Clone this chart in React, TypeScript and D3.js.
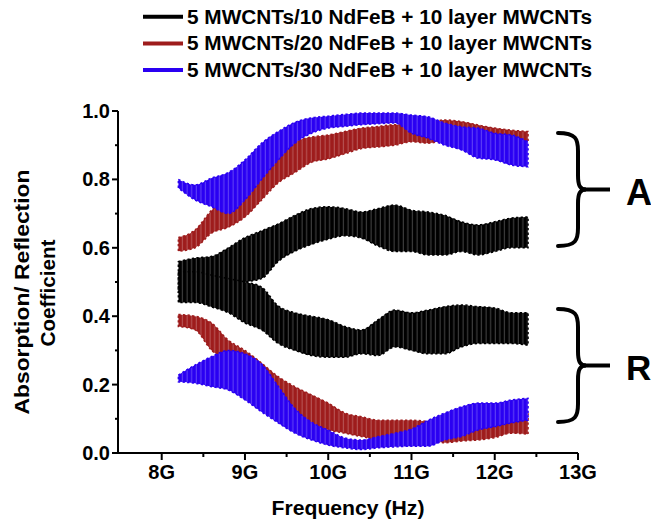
import React from "react";
import * as d3 from "d3";

// Frequency samples (GHz)
const FREQ = [8.2, 8.4, 8.6, 8.8, 9.0, 9.2, 9.4, 9.6, 9.8, 10.0, 10.2, 10.4, 10.6, 10.8, 11.0, 11.2, 11.4, 11.6, 11.8, 12.0, 12.2, 12.4];

// 5 MWCNTs/10 NdFeB — absorption (A) and reflection (R) envelopes
const BLACK_A_HI = [0.56, 0.57, 0.575, 0.6, 0.63, 0.65, 0.67, 0.695, 0.715, 0.72, 0.715, 0.705, 0.715, 0.725, 0.71, 0.705, 0.695, 0.676, 0.667, 0.676, 0.687, 0.69];
const BLACK_A_LO = [0.47, 0.47, 0.48, 0.49, 0.5, 0.51, 0.56, 0.59, 0.61, 0.625, 0.635, 0.628, 0.605, 0.589, 0.589, 0.579, 0.579, 0.589, 0.579, 0.589, 0.6, 0.6];
const BLACK_R_HI = [0.53, 0.53, 0.52, 0.51, 0.5, 0.485, 0.43, 0.41, 0.4, 0.39, 0.37, 0.36, 0.39, 0.418, 0.41, 0.418, 0.428, 0.433, 0.428, 0.424, 0.41, 0.41];
const BLACK_R_LO = [0.44, 0.44, 0.427, 0.41, 0.38, 0.36, 0.32, 0.3, 0.285, 0.28, 0.28, 0.29, 0.285, 0.31, 0.3, 0.29, 0.29, 0.31, 0.32, 0.32, 0.32, 0.315];

// 5 MWCNTs/20 NdFeB
const RED_A_HI = [0.63, 0.652, 0.71, 0.75, 0.79, 0.836, 0.877, 0.91, 0.924, 0.93, 0.94, 0.95, 0.955, 0.96, 0.96, 0.965, 0.974, 0.969, 0.959, 0.95, 0.944, 0.94];
const RED_A_LO = [0.59, 0.6, 0.643, 0.66, 0.69, 0.74, 0.79, 0.82, 0.85, 0.86, 0.875, 0.89, 0.895, 0.9, 0.91, 0.906, 0.915, 0.92, 0.915, 0.91, 0.91, 0.91];
const RED_R_HI = [0.405, 0.4, 0.38, 0.33, 0.3, 0.263, 0.223, 0.194, 0.17, 0.146, 0.117, 0.106, 0.096, 0.096, 0.096, 0.092, 0.088, 0.092, 0.096, 0.1, 0.106, 0.117];
const RED_R_LO = [0.37, 0.36, 0.3, 0.27, 0.223, 0.184, 0.146, 0.106, 0.085, 0.067, 0.058, 0.048, 0.04, 0.04, 0.05, 0.04, 0.03, 0.035, 0.038, 0.045, 0.058, 0.055];

// 5 MWCNTs/30 NdFeB
const BLUE_A_HI = [0.8, 0.784, 0.804, 0.82, 0.857, 0.906, 0.94, 0.967, 0.98, 0.985, 0.99, 0.994, 0.994, 0.994, 0.988, 0.983, 0.965, 0.954, 0.95, 0.935, 0.93, 0.91];
const BLUE_A_LO = [0.775, 0.74, 0.72, 0.7, 0.74, 0.8, 0.857, 0.906, 0.935, 0.95, 0.955, 0.96, 0.963, 0.965, 0.935, 0.92, 0.9, 0.886, 0.862, 0.857, 0.842, 0.837];
const BLUE_R_HI = [0.228, 0.257, 0.282, 0.3, 0.29, 0.26, 0.195, 0.13, 0.09, 0.067, 0.044, 0.038, 0.048, 0.058, 0.07, 0.096, 0.117, 0.135, 0.146, 0.146, 0.155, 0.16];
const BLUE_R_LO = [0.208, 0.204, 0.194, 0.184, 0.155, 0.12, 0.088, 0.058, 0.038, 0.023, 0.015, 0.01, 0.015, 0.018, 0.02, 0.02, 0.038, 0.048, 0.067, 0.077, 0.088, 0.096];

const LEGEND_LABELS = [
  "5 MWCNTs/10 NdFeB + 10 layer MWCNTs",
  "5 MWCNTs/20 NdFeB + 10 layer MWCNTs",
  "5 MWCNTs/30 NdFeB + 10 layer MWCNTs",
];
const COLORS = ["#000000", "#9e1c1c", "#2a00f2"];

const X_TICKS = [8, 9, 10, 11, 12, 13];
const X_MINOR = [8.5, 9.5, 10.5, 11.5, 12.5];
const X_TICK_LABELS = ["8G", "9G", "10G", "11G", "12G", "13G"];
const Y_TICKS = [0, 0.2, 0.4, 0.6, 0.8, 1.0];
const Y_MINOR = [0.1, 0.3, 0.5, 0.7, 0.9];

const BANDS = [
  { s: 0, lo: BLACK_A_LO, hi: BLACK_A_HI },
  { s: 0, lo: BLACK_R_LO, hi: BLACK_R_HI },
  { s: 1, lo: RED_A_LO, hi: RED_A_HI },
  { s: 1, lo: RED_R_LO, hi: RED_R_HI },
  { s: 2, lo: BLUE_A_LO, hi: BLUE_A_HI },
  { s: 2, lo: BLUE_R_LO, hi: BLUE_R_HI },
];

const FONT = "'Liberation Sans', Arial, sans-serif";

export default function App() {
  const x = d3.scaleLinear().domain([7.475, 13]).range([118, 578]);
  const y = d3.scaleLinear().domain([0, 1]).range([453, 111]);

  const area = (lo: number[], hi: number[]) =>
    d3
      .area<number>()
      .x((f) => x(f))
      .y0((_, i) => y(lo[i]))
      .y1((_, i) => y(hi[i]))
      .curve(d3.curveMonotoneX)(FREQ) as string;

  const brace = (top: number, bottom: number) => {
    const mid = (top + bottom) / 2;
    const x0 = 558;
    const x1 = 578;
    const xm = 586;
    return `M${x0},${top} C${x1 - 2},${top} ${x1},${top + 6} ${x1},${top + 18}
      L${x1},${mid - 14} C${x1},${mid - 4} ${x1 + 2},${mid} ${xm},${mid}
      C${x1 + 2},${mid} ${x1},${mid + 4} ${x1},${mid + 14}
      L${x1},${bottom - 18} C${x1},${bottom - 6} ${x1 - 2},${bottom} ${x0},${bottom}`;
  };

  return (
    <svg
      width={651}
      height={523}
      style={{ position: "absolute", left: 0, top: 0, background: "#fff" }}
      fontFamily={FONT}
      fontWeight="bold"
    >
      <defs>
        {COLORS.map((c, i) => (
          <pattern key={c} id={`stripe${i}`} patternUnits="userSpaceOnUse" width={4.6} height={20}>
            <rect width={4.6} height={20} fill={c} />
            <rect x={2.6} width={0.8} height={20} fill="#ffffff" opacity={0.35} />
          </pattern>
        ))}
      </defs>

      {/* Legend */}
      {LEGEND_LABELS.map((lab, i) => (
        <g key={lab}>
          <line x1={143} x2={183} y1={16.7 + i * 26.7} y2={16.7 + i * 26.7} stroke={COLORS[i]} strokeWidth={4} />
          <text x={187} y={23.5 + i * 26.8} fontSize={20} textLength={405} lengthAdjust="spacingAndGlyphs" fill="#000">
            {lab}
          </text>
        </g>
      ))}

      {/* Data bands */}
      {BANDS.map((b, i) => (
        <path
          key={i}
          d={area(b.lo, b.hi)}
          fill={`url(#stripe${b.s})`}
          stroke={COLORS[b.s]}
          strokeWidth={1.5}
          strokeDasharray="2.3 2.3"
        />
      ))}

      {/* Axes */}
      <line x1={118} x2={578} y1={453} y2={453} stroke="#000" strokeWidth={2} />
      <line x1={118} x2={118} y1={111} y2={454} stroke="#000" strokeWidth={2} />
      {X_TICKS.map((t, i) => (
        <g key={t}>
          <line x1={x(t)} x2={x(t)} y1={453} y2={460} stroke="#000" strokeWidth={2} />
          <text x={x(t)} y={479} textAnchor="middle" fontSize={20}>
            {X_TICK_LABELS[i]}
          </text>
        </g>
      ))}
      {X_MINOR.map((t) => (
        <line key={t} x1={x(t)} x2={x(t)} y1={453} y2={457} stroke="#000" strokeWidth={2} />
      ))}
      {Y_TICKS.map((t) => (
        <g key={t}>
          <line x1={112} x2={118} y1={y(t)} y2={y(t)} stroke="#000" strokeWidth={2} />
          <text x={110} y={y(t) + 7} textAnchor="end" fontSize={20}>
            {t.toFixed(1)}
          </text>
        </g>
      ))}
      {Y_MINOR.map((t) => (
        <line key={t} x1={115} x2={118} y1={y(t)} y2={y(t)} stroke="#000" strokeWidth={2} />
      ))}

      {/* Axis titles */}
      <text x={348} y={515} textAnchor="middle" fontSize={20} textLength={153} lengthAdjust="spacingAndGlyphs">
        Frequency (Hz)
      </text>
      <text transform="translate(28.5,292) rotate(-90)" textAnchor="middle" fontSize={20} textLength={245} lengthAdjust="spacingAndGlyphs">
        Absorption/ Reflection
      </text>
      <text transform="translate(55,293) rotate(-90)" textAnchor="middle" fontSize={20} textLength={107} lengthAdjust="spacingAndGlyphs">
        Coefficient
      </text>

      {/* Braces */}
      <path d={brace(133, 246)} fill="none" stroke="#000" strokeWidth={4} strokeLinecap="round" />
      <line x1={584} x2={610} y1={189.5} y2={189.5} stroke="#000" strokeWidth={4} />
      <text x={626} y={205} fontSize={36}>A</text>
      <path d={brace(309, 422)} fill="none" stroke="#000" strokeWidth={4} strokeLinecap="round" />
      <line x1={584} x2={610} y1={365.5} y2={365.5} stroke="#000" strokeWidth={4} />
      <text x={626} y={380} fontSize={35}>R</text>
    </svg>
  );
}
